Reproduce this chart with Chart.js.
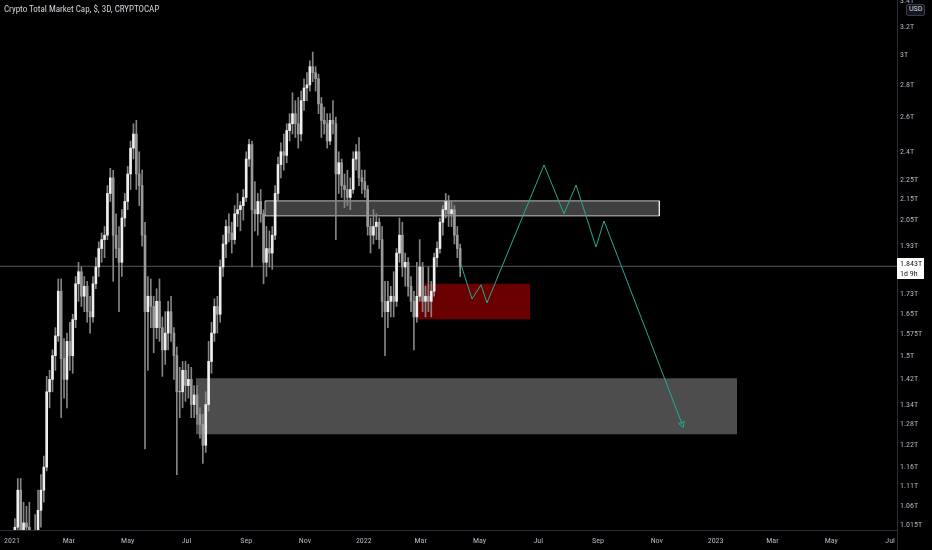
<!DOCTYPE html>
<html>
<head>
<meta charset="utf-8">
<script src="https://cdn.jsdelivr.net/npm/chart.js@4.4.1/dist/chart.umd.min.js"></script>
<style>
html,body{margin:0;padding:0;background:#000;}
#wrap{position:relative;width:932px;height:550px;background:#000;}
canvas{display:block;}
#title{position:absolute;left:4px;top:4px;color:#d1d4dc;font:9px 'Liberation Sans Narrow','Roboto Condensed','DejaVu Sans Condensed',Roboto,sans-serif;white-space:nowrap;}
#usd{position:absolute;left:906px;top:4px;padding:0 2px;height:10px;line-height:10px;color:#d1d4dc;background:#131722;border:1px solid #363a45;border-radius:2px;font:7px 'Liberation Sans Narrow',Roboto,sans-serif;}
</style>
</head>
<body>
<div id="wrap">
<canvas id="c" width="932" height="550"></canvas>
<div id="title">Crypto Total Market Cap, $, 3D, CRYPTOCAP</div>
<div id="usd">USD</div>
</div>
<script>
// ---- time axis (days since 2021-01-01) ----
const candleStartDay = 0;
const candleStepDays = 3;
const monthTickDays   = [0, 59, 120, 181, 243, 304, 365, 424, 485, 546, 608, 669, 730, 789, 850, 911];
const monthTickLabels = ['2021','Mar','May','Jul','Sep','Nov','2022','Mar','May','Jul','Sep','Nov','2023','Mar','May','Jul'];

// ---- price axis (trillions USD) ----
const priceTickValues = [3.4, 3.2, 3.0, 2.8, 2.6, 2.4, 2.25, 2.15, 2.05, 1.93, 1.73, 1.65, 1.575, 1.5, 1.42, 1.34, 1.28, 1.22, 1.16, 1.11, 1.06, 1.015];
const priceTickLabels = ['3.4T','3.2T','3T','2.8T','2.6T','2.4T','2.25T','2.15T','2.05T','1.93T','1.73T','1.65T','1.575T','1.5T','1.42T','1.34T','1.28T','1.22T','1.16T','1.11T','1.06T','1.015T'];

// ---- 3D candles, total crypto market cap (T) ----
const opens = [
0.75,0.93,1.01,1.10,0.96,1.02,1.01,0.92,0.97,0.93,
1.05,1.10,1.16,1.38,1.42,1.50,1.57,1.74,1.49,1.42,
1.55,1.50,1.63,1.77,1.82,1.72,1.76,1.66,1.64,1.77,
1.84,1.92,1.96,1.98,2.18,2.26,1.98,1.92,1.86,2.06,
2.14,2.28,2.42,2.50,2.28,2.22,1.98,1.66,1.72,1.68,
1.60,1.70,1.60,1.52,1.58,1.66,1.58,1.50,1.38,1.38,
1.45,1.40,1.42,1.34,1.37,1.31,1.28,1.22,1.34,1.48,
1.58,1.68,1.65,1.84,1.94,2.02,1.99,1.96,2.08,2.10,
2.12,2.16,2.36,2.44,2.10,2.08,2.14,2.08,1.86,1.92,
1.90,1.98,2.18,2.33,2.40,2.38,2.52,2.56,2.62,2.56,
2.50,2.70,2.78,2.80,2.92,2.88,2.84,2.68,2.58,2.56,
2.46,2.58,2.56,2.28,2.34,2.22,2.20,2.16,2.20,2.36,
2.40,2.26,2.24,2.20,2.02,1.98,2.02,2.04,1.96,1.70,
1.66,1.70,1.72,1.70,1.90,1.98,1.84,1.86,1.76,1.70,
1.64,1.72,1.84,1.70,1.72,1.70,1.74,1.88,1.92,2.04,
2.10,2.14,2.08,2.10,1.98,1.92];
const highs = [
0.94,1.03,1.13,1.13,1.07,1.06,1.07,1.00,1.04,1.10,
1.14,1.19,1.43,1.45,1.52,1.60,1.79,1.79,1.56,1.58,
1.62,1.65,1.80,1.86,1.84,1.80,1.78,1.72,1.80,1.88,
1.95,1.99,2.02,2.22,2.31,2.30,2.08,2.02,2.10,2.18,
2.32,2.46,2.56,2.58,2.40,2.30,2.04,1.80,1.79,1.72,
1.75,1.79,1.64,1.66,1.70,1.72,1.60,1.53,1.46,1.48,
1.48,1.47,1.46,1.40,1.40,1.33,1.31,1.38,1.55,1.62,
1.71,1.72,1.87,1.98,2.05,2.08,2.04,2.12,2.18,2.14,
2.20,2.40,2.47,2.46,2.24,2.18,2.20,2.10,2.02,2.00,
2.02,2.22,2.37,2.45,2.50,2.56,2.62,2.75,2.70,2.72,
2.76,2.84,2.88,2.96,3.02,2.92,2.87,2.72,2.66,2.62,
2.62,2.70,2.60,2.40,2.36,2.28,2.30,2.26,2.40,2.44,
2.48,2.30,2.30,2.22,2.06,2.10,2.08,2.06,2.02,1.78,
1.78,1.76,1.82,1.92,2.06,2.04,1.90,1.88,1.80,1.74,
1.86,1.96,1.86,1.76,1.84,1.78,1.90,1.95,2.06,2.12,
2.18,2.17,2.14,2.12,2.02,1.94];
const lows = [
0.74,0.87,1.00,0.88,0.94,0.97,0.88,0.88,0.89,0.92,
1.01,1.07,1.15,1.33,1.38,1.45,1.55,1.30,1.36,1.33,
1.45,1.44,1.60,1.70,1.68,1.66,1.62,1.58,1.62,1.75,
1.80,1.86,1.88,1.96,2.14,1.78,1.88,1.66,1.80,2.02,
2.10,2.20,2.36,2.20,2.12,1.93,1.21,1.45,1.60,1.51,
1.56,1.55,1.43,1.47,1.52,1.55,1.42,1.14,1.30,1.33,
1.35,1.36,1.30,1.30,1.28,1.24,1.17,1.20,1.32,1.44,
1.55,1.58,1.62,1.80,1.88,1.95,1.90,1.94,2.02,2.00,
2.05,2.14,2.32,1.84,2.00,1.98,2.04,1.77,1.80,1.84,
1.83,1.96,2.14,2.26,2.30,2.34,2.46,2.50,2.48,2.42,
2.46,2.64,2.70,2.76,2.82,2.76,2.62,2.48,2.50,2.42,
2.44,2.50,1.96,2.18,2.16,2.11,2.12,2.10,2.18,2.30,
2.22,2.18,2.16,1.98,1.90,1.94,1.96,1.92,1.64,1.50,
1.60,1.64,1.64,1.68,1.86,1.80,1.76,1.72,1.66,1.52,
1.62,1.70,1.66,1.64,1.66,1.64,1.72,1.84,1.90,1.98,
2.06,2.02,2.02,1.94,1.88,1.80];
const closes = [
0.93,1.01,1.10,0.96,1.02,1.01,0.92,0.97,0.93,1.05,
1.10,1.16,1.38,1.42,1.50,1.57,1.74,1.49,1.42,1.55,
1.50,1.63,1.77,1.82,1.72,1.76,1.66,1.64,1.77,1.84,
1.92,1.96,1.98,2.18,2.26,1.98,1.92,1.86,2.06,2.14,
2.28,2.42,2.50,2.28,2.22,1.98,1.66,1.72,1.68,1.60,
1.70,1.60,1.52,1.58,1.66,1.58,1.50,1.38,1.38,1.45,
1.40,1.42,1.34,1.37,1.31,1.28,1.22,1.34,1.48,1.58,
1.68,1.65,1.84,1.94,2.02,1.99,1.96,2.08,2.10,2.12,
2.16,2.36,2.44,2.10,2.08,2.14,2.08,1.86,1.92,1.90,
1.98,2.18,2.33,2.40,2.38,2.52,2.56,2.62,2.56,2.50,
2.70,2.78,2.80,2.92,2.88,2.84,2.68,2.58,2.56,2.46,
2.58,2.56,2.28,2.34,2.22,2.20,2.16,2.20,2.36,2.40,
2.26,2.24,2.20,2.02,1.98,2.02,2.04,1.96,1.70,1.66,
1.70,1.72,1.70,1.90,1.98,1.84,1.86,1.76,1.70,1.64,
1.72,1.84,1.70,1.72,1.70,1.74,1.88,1.92,2.04,2.10,
2.14,2.08,2.10,1.98,1.92,1.843];

// ---- projection path (green) ----
const projDays   = [465.9, 477.3, 486.6, 492.8, 552.0, 572.7, 585.2, 605.9, 614.2, 695.2];
const projValues = [1.849, 1.709, 1.766, 1.694, 2.328, 2.080, 2.223, 1.927, 2.046, 1.281];

// ---- zones: [startDay, endDay, low, high] ----
const resistanceZone = [262.5, 671.6, 2.070, 2.143];
const demandZone     = [420.9, 537.5, 1.631, 1.770];
const supportZone    = [190.9, 752.2, 1.251, 1.424];

const lastPrice = 1.843;
const lastPriceLabel = '1.843T';
const countdownLabel = '1d 9h';

const xMin = -12.45, xMax = 918.2;
const yMin = 1.0035, yMax = 3.405;
const FONT = "'Liberation Sans Narrow','Roboto Condensed','DejaVu Sans Condensed',Roboto,sans-serif";

const days = opens.map((_, i) => candleStartDay + i * candleStepDays);
const wickData = days.map((d, i) => ({x: d, y: [lows[i], highs[i]]}));
const bodyData = days.map((d, i) => ({x: d, y: [Math.min(opens[i], closes[i]), Math.max(opens[i], closes[i])]}));
const bodyColors = days.map((d, i) => closes[i] >= opens[i] ? '#eeeeee' : '#9a9a9a');

function boxPoly(z) {
  return [{x: z[0], y: z[3]}, {x: z[1], y: z[3]}, {x: z[1], y: z[2]}, {x: z[0], y: z[2]}, {x: z[0], y: z[3]}];
}
const projData = projDays.map((d, i) => ({x: d, y: projValues[i]}));

function noPad(scale) {
  scale.paddingTop = 0; scale.paddingBottom = 0;
  scale.paddingLeft = 0; scale.paddingRight = 0;
}

const bgPlugin = {
  id: 'bg',
  beforeDraw(chart) {
    const ctx = chart.ctx;
    ctx.save();
    ctx.fillStyle = '#000';
    ctx.fillRect(0, 0, chart.width, chart.height);
    ctx.restore();
  },
  afterDraw(chart) {
    const ctx = chart.ctx;
    const ya = chart.scales.y;
    const ca = chart.chartArea;
    ctx.save();
    ctx.strokeStyle = '#2a2e39';
    ctx.lineWidth = 1;
    ctx.beginPath();
    ctx.moveTo(ca.right + 0.5, ca.bottom);
    ctx.lineTo(ca.right + 0.5, chart.height);
    ctx.stroke();
    const py = Math.round(ya.getPixelForValue(lastPrice));
    ctx.fillStyle = '#ffffff';
    ctx.fillRect(ca.right, py - 8, 27, 21);
    ctx.fillStyle = '#131722';
    ctx.font = '8px ' + FONT;
    ctx.textBaseline = 'middle';
    ctx.textAlign = 'left';
    ctx.fillText(lastPriceLabel, ca.right + 3, py - 2);
    ctx.fillText(countdownLabel, ca.right + 3, py + 8);
    ctx.restore();
  }
};

new Chart(document.getElementById('c'), {
  type: 'bar',
  data: {
    datasets: [
      {
        type: 'line', label: 'projection', data: projData, order: 0,
        borderColor: '#22ab94', borderWidth: 1, tension: 0, fill: false,
        pointRadius: projData.map((_, i) => i === projData.length - 1 ? 3.5 : 0),
        pointStyle: 'triangle', pointRotation: 159,
        pointBackgroundColor: 'rgba(0,0,0,0)', pointBorderColor: '#22ab94', pointBorderWidth: 1
      },
      {
        label: 'bodies', data: bodyData, order: 1, grouped: false,
        backgroundColor: bodyColors, borderWidth: 0, barThickness: 2
      },
      {
        label: 'wicks', data: wickData, order: 2, grouped: false,
        backgroundColor: '#858585', borderWidth: 0, barThickness: 1
      },
      {
        type: 'line', label: 'last', data: [{x: xMin, y: lastPrice}, {x: xMax, y: lastPrice}], order: 3,
        borderColor: 'rgba(200,200,200,0.45)', borderWidth: 1, pointRadius: 0, fill: false
      },
      {
        type: 'line', label: 'resistance', data: boxPoly(resistanceZone), order: 4,
        borderColor: 'rgba(255,255,255,0.7)', borderWidth: 1, pointRadius: 0, tension: 0,
        fill: 'shape', backgroundColor: 'rgba(255,255,255,0.25)'
      },
      {
        type: 'line', label: 'demand', data: boxPoly(demandZone), order: 5,
        borderColor: 'rgba(0,0,0,0)', borderWidth: 0, pointRadius: 0, tension: 0,
        fill: 'shape', backgroundColor: 'rgba(178,0,0,0.6)'
      },
      {
        type: 'line', label: 'support', data: boxPoly(supportZone), order: 6,
        borderColor: 'rgba(0,0,0,0)', borderWidth: 0, pointRadius: 0, tension: 0,
        fill: 'shape', backgroundColor: 'rgba(255,255,255,0.3)'
      }
    ]
  },
  options: {
    responsive: false,
    animation: false,
    devicePixelRatio: 1,
    layout: {padding: 0, autoPadding: false},
    plugins: {legend: {display: false}, tooltip: {enabled: false}, title: {display: false}},
    scales: {
      x: {
        type: 'linear', position: 'bottom', min: xMin, max: xMax, offset: false,
        grid: {display: false, offset: false, drawTicks: false},
        border: {display: true, color: '#2a2e39'},
        afterBuildTicks(scale) { scale.ticks = monthTickDays.map(v => ({value: v})); },
        afterFit(scale) { scale.height = 20; noPad(scale); },
        ticks: {
          autoSkip: false, maxRotation: 0, padding: 6, color: '#b2b5be',
          font: {size: 8, family: FONT},
          callback(value) { const k = monthTickDays.indexOf(value); return k >= 0 ? monthTickLabels[k] : ''; }
        }
      },
      y: {
        type: 'logarithmic', position: 'right', min: yMin, max: yMax,
        grid: {display: false, drawTicks: false},
        border: {display: true, color: '#2a2e39'},
        afterBuildTicks(scale) { scale.ticks = priceTickValues.map(v => ({value: v})); },
        afterFit(scale) { scale.width = 35; noPad(scale); },
        ticks: {
          autoSkip: false, padding: 3, color: '#b2b5be',
          font: {size: 8, family: FONT},
          callback(value) { const k = priceTickValues.indexOf(value); return k >= 0 ? priceTickLabels[k] : ''; }
        }
      }
    }
  },
  plugins: [bgPlugin]
});
</script>
</body>
</html>
